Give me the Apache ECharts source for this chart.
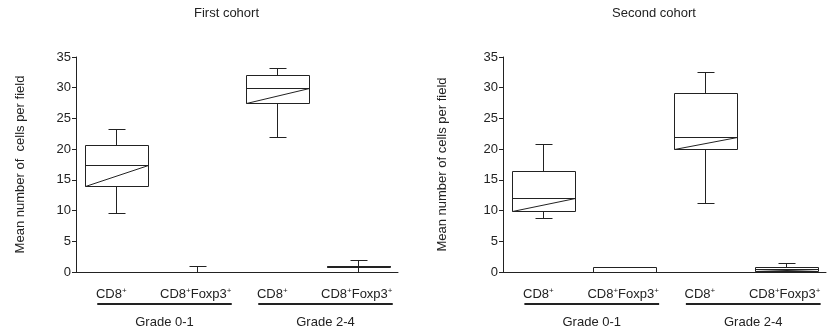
<!DOCTYPE html>
<html><head><meta charset="utf-8">
<script src="https://cdn.jsdelivr.net/npm/echarts@6/dist/echarts.min.js"></script>
<style>html,body{margin:0;padding:0;background:#fff}#c{width:829px;height:333px}</style>
</head><body><div id="c"></div>
<script>
// ---- data ----
const categories = ['CD8+ Grade 0-1', 'CD8+Foxp3+ Grade 0-1', 'CD8+ Grade 2-4', 'CD8+Foxp3+ Grade 2-4'];
const cellLabels = ['CD8', 'CD8+Foxp3', 'CD8', 'CD8+Foxp3'];
const groupLabels = ['Grade 0-1', 'Grade 2-4'];
const chartTitles = ['First cohort', 'Second cohort'];
const yNames = ['Mean number of  cells per field', 'Mean number of cells per field'];
const yTicks = [0, 5, 10, 15, 20, 25, 30, 35];

const firstMin    = [9.65, 0,   22.0, 0];
const firstQ1     = [14.0, 0,   27.5, 0.8];
const firstMedian = [17.5, 0,   30.0, 0.9];
const firstQ3     = [20.7, 0,   32.1, 1.0];
const firstMax    = [23.3, 0.9, 33.2, 2.0];

const secondMin    = [8.85, 0,    11.2, 0];
const secondQ1     = [10.0, 0,    20.0, 0.1];
const secondMedian = [12.0, 0,    22.0, 0.5];
const secondQ3     = [16.5, 0.86, 29.1, 0.85];
const secondMax    = [20.9, 0.86, 32.6, 1.45];

function rows(mn, q1, md, q3, mx) {
  return categories.map((c, i) => [i, mn[i], q1[i], md[i], q3[i], mx[i]]);
}
const FONT = '"Liberation Sans", Arial, sans-serif';
const INK = '#222';
const h = v => Math.round(v) + 0.5;

function renderBox(params, api) {
  const i = api.value(0);
  const band = api.size([1, 0])[0];
  const w = band * 0.78, cap = band * 0.22;
  const yMin = h(api.coord([i, api.value(1)])[1]);
  const yQ1 = h(api.coord([i, api.value(2)])[1]);
  const yMed = h(api.coord([i, api.value(3)])[1]);
  const yQ3 = h(api.coord([i, api.value(4)])[1]);
  const yMax = h(api.coord([i, api.value(5)])[1]);
  const cx = h(api.coord([i, 0])[0]);
  const l = h(cx - w / 2), r = h(cx + w / 2);
  const ls = { stroke: INK, lineWidth: 1, fill: null };
  return { type: 'group', children: [
    { type: 'line', shape: { x1: cx, y1: yQ3, x2: cx, y2: yMax }, style: ls },
    { type: 'line', shape: { x1: h(cx - cap / 2), y1: yMax, x2: h(cx + cap / 2), y2: yMax }, style: ls },
    { type: 'line', shape: { x1: cx, y1: yQ1, x2: cx, y2: yMin }, style: ls },
    { type: 'line', shape: { x1: h(cx - cap / 2), y1: yMin, x2: h(cx + cap / 2), y2: yMin }, style: ls },
    { type: 'rect', shape: { x: l, y: yQ3, width: r - l, height: yQ1 - yQ3 }, style: { fill: '#fff', stroke: INK, lineWidth: 1 } },
    { type: 'line', shape: { x1: l, y1: yMed, x2: r, y2: yMed }, style: ls },
    { type: 'line', shape: { x1: l, y1: yQ1, x2: r, y2: yMed }, style: ls }
  ]};
}

const chart = echarts.init(document.getElementById('c'), null, { renderer: 'canvas' });
const grids = [
  { left: 76, top: 57, width: 322, height: 215 },
  { left: 503, top: 57, width: 323, height: 215 }
];
const nameGaps = [49, 54];
const option = {
  animation: false,
  backgroundColor: '#fff',
  textStyle: { fontFamily: FONT },
  grid: grids,
  xAxis: [0, 1].map(g => ({
    type: 'category', gridIndex: g, data: categories,
    axisLine: { lineStyle: { color: INK, width: 1 } },
    axisTick: { show: false }, axisLabel: { show: false }
  })),
  yAxis: [0, 1].map(g => ({
    type: 'value', gridIndex: g, min: yTicks[0], max: yTicks[yTicks.length - 1], interval: 5,
    name: yNames[g], nameLocation: 'middle', nameGap: nameGaps[g],
    nameTextStyle: { fontSize: 13, color: INK, fontFamily: FONT },
    axisLine: { show: true, lineStyle: { color: INK, width: 1 } },
    axisTick: { show: true, length: 4, lineStyle: { color: INK } },
    axisLabel: { fontSize: 13, color: INK, margin: 5, fontFamily: FONT },
    splitLine: { show: false }
  })),
  series: [
    { type: 'custom', xAxisIndex: 0, yAxisIndex: 0, renderItem: renderBox,
      encode: { x: 0, y: [1, 2, 3, 4, 5] }, data: rows(firstMin, firstQ1, firstMedian, firstQ3, firstMax) },
    { type: 'custom', xAxisIndex: 1, yAxisIndex: 1, renderItem: renderBox,
      encode: { x: 0, y: [1, 2, 3, 4, 5] }, data: rows(secondMin, secondQ1, secondMedian, secondQ3, secondMax) }
  ]
};
chart.setOption(option);

function annotate() {
  const els = [];
  const rich = { b: { fontSize: 13, lineHeight: 15, fontFamily: FONT, fill: INK, color: INK },
                 s: { fontSize: 8, lineHeight: 8, verticalAlign: 'top', fontFamily: FONT, color: INK } };
  [0, 1].forEach(g => {
    const base = chart.convertToPixel({ yAxisIndex: g }, 0);
    const cxs = categories.map(c => chart.convertToPixel({ xAxisIndex: g }, c));
    const gl = grids[g].left, gw = grids[g].width;
    els.push({ type: 'text', x: gl + gw / 2 - 10.5, y: 13,
      style: { text: chartTitles[g], fontSize: 13, fontFamily: FONT, fill: INK, align: 'center', verticalAlign: 'middle' } });
    cxs.forEach((cx, i) => {
      const txt = cellLabels[i] === 'CD8' ? '{b|CD8}{s|+}' : '{b|CD8}{s|+}{b|Foxp3}{s|+}';
      const off = cellLabels[i] === 'CD8' ? -5 : -1;
      els.push({ type: 'text', x: cx + off, y: base + 22,
        style: { text: txt, rich: rich, align: 'center', verticalAlign: 'middle', fill: INK } });
    });
    [0, 1].forEach(k => {
      const x1 = cxs[2 * k] - 19, x2 = cxs[2 * k + 1] + 35;
      els.push({ type: 'line', shape: { x1: x1, y1: base + 32, x2: x2, y2: base + 32 },
        style: { stroke: INK, lineWidth: 2 } });
      els.push({ type: 'text', x: (x1 + x2) / 2, y: base + 50,
        style: { text: groupLabels[k], fontSize: 13, fontFamily: FONT, fill: INK, align: 'center', verticalAlign: 'middle' } });
    });
  });
  chart.setOption({ graphic: { elements: els } });
}
annotate();
</script>
</body></html>
